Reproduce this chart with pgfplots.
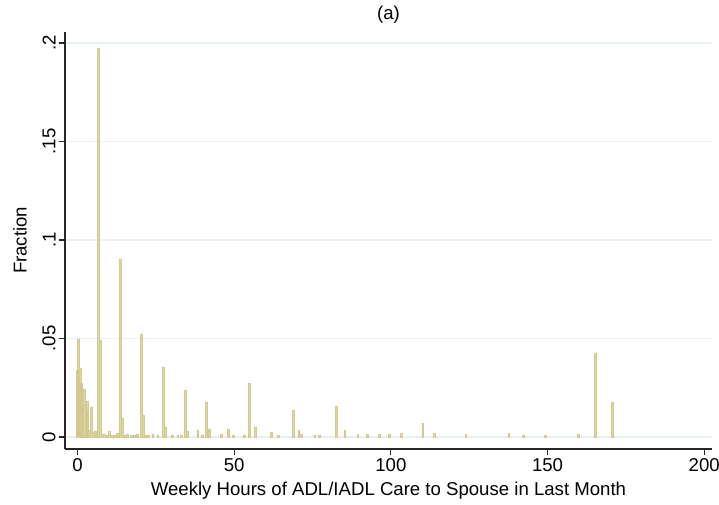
\documentclass[border=0pt]{standalone}
\usepackage{pgfplots}
\pgfplotsset{compat=1.18}
\usepackage{fontspec}
\setmainfont{Liberation Sans}
\definecolor{barfill}{RGB}{222,216,168}
\definecolor{baredge}{RGB}{210,201,145}
\definecolor{gridc}{RGB}{232,240,242}
\begin{document}
\begin{tikzpicture}[font=\fontsize{9.3}{11}\selectfont]
\begin{axis}[
  scale only axis, width=323.5pt, height=208.65pt,
  xmin=-4, xmax=202.5, ymin=-0.0061, ymax=0.2057,
  axis x line*=bottom, axis y line*=left,
  axis line style={line width=0.6pt, black!85, -},
  xtick={0,50,100,150,200}, ytick={0,0.05,0.1,0.15,0.2},
  yticklabels={0,.05,.1,.15,.2},
  tick align=outside, major tick length=3pt,
  tick style={line width=0.6pt, black!85},
  ymajorgrids, grid style={gridc, line width=0.6pt},
  yticklabel style={rotate=90, anchor=south, inner sep=1.5pt},
  xticklabel style={inner sep=1.5pt},
  /pgf/number format/assume math mode=true,
  title={(a)}, title style={at={(axis description cs:0.5,1.011)}, anchor=center},
  xlabel={Weekly Hours of ADL/IADL Care to Spouse in Last Month},
  xlabel style={at={(axis description cs:0.5,-0.0995)}, anchor=center},
  ylabel={Fraction},
  ylabel style={at={(axis description cs:-0.0696,0.5)}, anchor=center},
]
\addplot[ybar, bar width=0.55, bar shift=0pt, fill=barfill, draw=baredge, line width=0.35pt] table {
x y
0.03 0.034
0.35 0.0496
0.9 0.0349
1.3 0.027
1.7 0.0162
2.2 0.0242
2.7 0.0137
3.2 0.0179
3.75 0.0036
4.4 0.0151
5.0 0.0024
5.6 0.003
6.1 0.0015
6.7 0.197
7.3 0.0489
7.9 0.0012
8.5 0.0012
9.1 0.0010
10.2 0.0027
11.2 0.0010
12.0 0.0008
12.7 0.0017
13.6 0.0902
14.2 0.0095
15.2 0.0010
15.8 0.0015
17.1 0.0008
18.2 0.0008
19.0 0.0015
20.3 0.0523
21.0 0.0108
22.0 0.0008
22.7 0.0008
24.0 0.0012
25.6 0.0008
27.3 0.0354
28.0 0.0049
30.3 0.0008
32.0 0.0010
33.1 0.0010
34.3 0.0238
35.0 0.0030
38.4 0.0034
39.8 0.0010
41.2 0.0175
42.0 0.0040
45.8 0.0015
48.1 0.0040
49.7 0.0010
53.2 0.0008
54.9 0.0271
56.7 0.0049
61.9 0.0025
64.0 0.0010
68.8 0.0137
70.6 0.0035
71.5 0.0013
75.7 0.0009
77.1 0.0009
82.6 0.0158
85.3 0.0035
89.5 0.0012
92.6 0.0012
96.3 0.0012
99.6 0.0012
103.3 0.0017
110.2 0.0070
113.8 0.0016
123.9 0.0014
137.7 0.0016
142.3 0.0008
149.4 0.0008
159.8 0.0012
165.3 0.0426
170.7 0.0178
};
\end{axis}
\pgfresetboundingbox
\path[use as bounding box] ([shift={(-32.5pt,-27.5pt)}]current axis.south west) rectangle ([shift={(3.5pt,15.85pt)}]current axis.north east);
\end{tikzpicture}
\end{document}
